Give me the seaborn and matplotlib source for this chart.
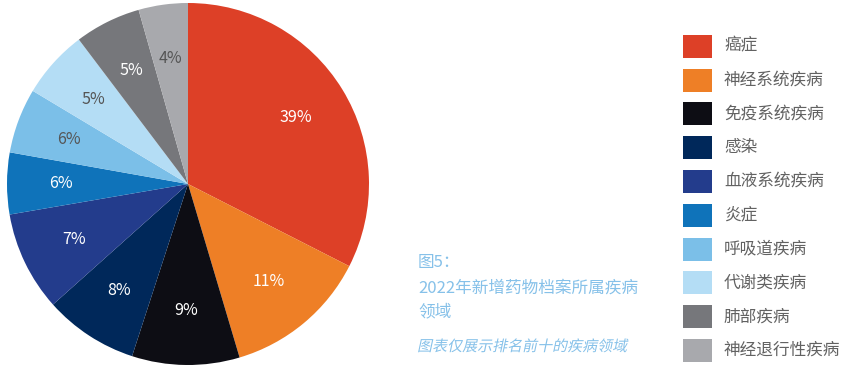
import matplotlib
matplotlib.use("Agg")
import matplotlib.pyplot as plt
import seaborn as sns
from matplotlib.patches import Rectangle
from matplotlib.patheffects import AbstractPathEffect
from matplotlib.transforms import Affine2D

# disease areas (top ten), printed share and measured slice size
areas = ["癌症", "神经系统疾病", "免疫系统疾病", "感染", "血液系统疾病",
         "炎症", "呼吸道疾病", "代谢类疾病", "肺部疾病", "神经退行性疾病"]
pct_labels = [39, 11, 9, 8, 7, 6, 6, 5, 5, 4]
slice_sizes = [32.5, 12.9, 9.6, 8.4, 8.9, 5.5, 5.8, 6.1, 5.9, 4.4]
colors = ["#dd4027", "#ee7f26", "#0d0d14", "#00285a", "#233c8c",
          "#0f73ba", "#7bbfe8", "#b4ddf5", "#76777b", "#a8a9ad"]
dark_label = ["呼吸道疾病", "代谢类疾病", "神经退行性疾病"]

sns.set_style("white")
plt.rcParams['font.family'] = ['Noto Sans CJK SC', 'DejaVu Sans']

fig = plt.figure(figsize=(8.49, 3.70), dpi=100)
ax = fig.add_axes([7 / 849, 5 / 370, 362 / 849, 362 / 370])

wedges, texts = ax.pie(slice_sizes, colors=colors, startangle=90, counterclock=False,
                       labels=[f"{p}%" for p in pct_labels], labeldistance=0.70,
                       wedgeprops=dict(linewidth=0))
for t, name in zip(texts, areas):
    t.set_ha("center")
    t.set_va("center")
    t.set_fontsize(11.5)
    t.set_color("#555555" if name in dark_label else "white")
ax.set_xlim(-1, 1)
ax.set_ylim(-1, 1)
ax.axis("off")

# legend drawn by hand
for i, (name, c) in enumerate(zip(areas, colors)):
    yc = 46.3 + i * 33.8
    fig.add_artist(Rectangle((683 / 849, 1 - (yc + 11.5) / 370), 29 / 849, 23 / 370,
                             transform=fig.transFigure, color=c, lw=0))
    fig.text(724 / 849, 1 - yc / 370, name, fontsize=12, color="#626262",
             va="center", ha="left")


class Skew(AbstractPathEffect):
    def __init__(self, y0, deg=12):
        super().__init__()
        self.y0 = y0
        self.deg = deg

    def draw_path(self, renderer, gc, tpath, affine, rgbFace=None):
        sk = Affine2D().translate(0, -self.y0).skew_deg(self.deg, 0).translate(0, self.y0)
        renderer.draw_path(gc, tpath, affine + sk, rgbFace)


cap = "#86c1e9"
fig.text(418 / 849, 1 - 262.5 / 370, "图5：", fontsize=12, color=cap, va="center")
fig.text(418 / 849, 1 - 288 / 370, "2022年新增药物档案所属疾病", fontsize=12, color=cap, va="center")
fig.text(418 / 849, 1 - 311.7 / 370, "领域", fontsize=12, color=cap, va="center")
fig.text(418 / 849, 1 - 346.7 / 370, "图表仅展示排名前十的疾病领域", fontsize=10.8, color=cap,
         va="center", path_effects=[Skew(370 - 346.7)])

plt.savefig("out.png", dpi=100)
